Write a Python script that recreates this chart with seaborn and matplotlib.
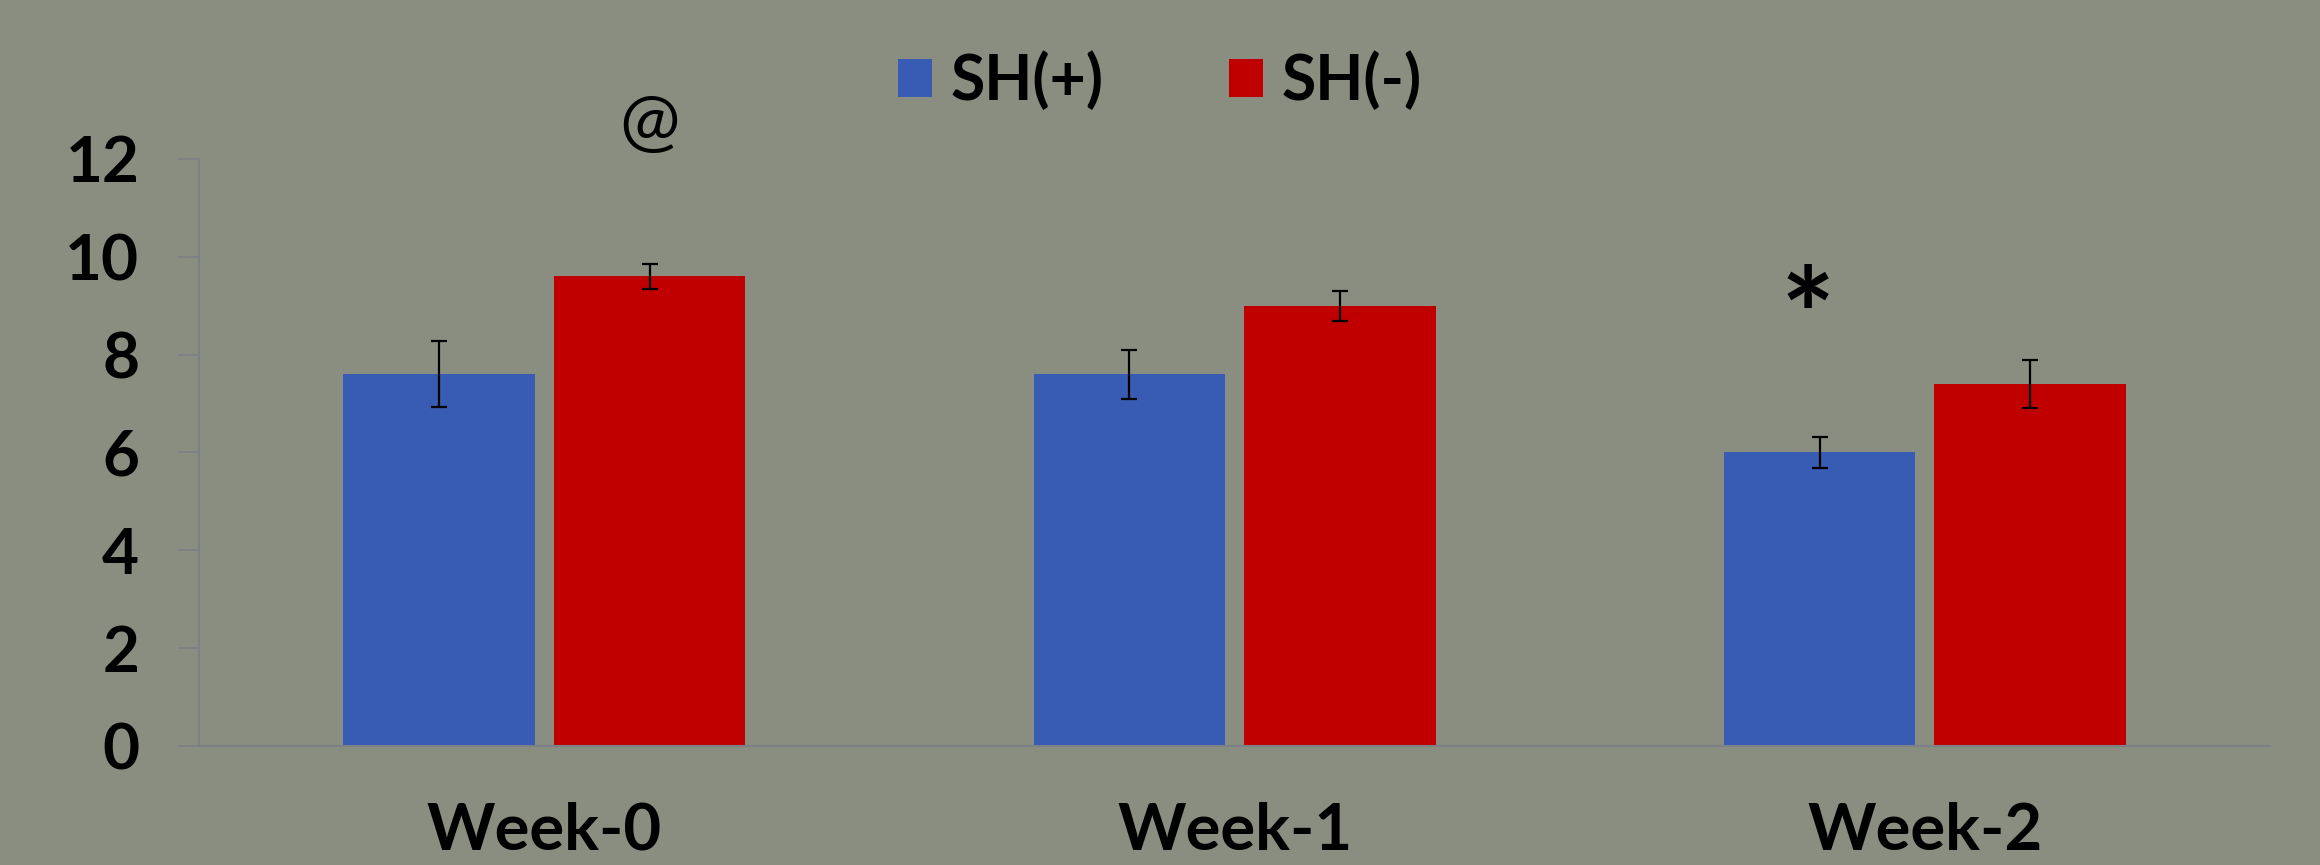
import numpy as np
import pandas as pd
import matplotlib
matplotlib.use("Agg")
import matplotlib.pyplot as plt
import seaborn as sns

# values
weeks = ["Week-0", "Week-1", "Week-2"]
groups = ["SH(+)", "SH(-)"]
sh_pos = [7.6, 7.6, 6.0]
sh_neg = [9.6, 9.0, 7.4]
sh_pos_err = [0.68, 0.5, 0.31]
sh_neg_err = [0.25, 0.31, 0.5]
yticks = [0, 2, 4, 6, 8, 10, 12]

bg = "#8a8e80"
colors = ["#385bb4", "#c00000"]

df = pd.DataFrame({
    "week": weeks * 2,
    "group": [groups[0]] * 3 + [groups[1]] * 3,
    "value": sh_pos + sh_neg,
})
errs = [sh_pos_err, sh_neg_err]

sns.set_theme(style="white")
plt.rcParams["font.family"] = ["Lato", "DejaVu Sans"]

fig = plt.figure(figsize=(23.2, 8.65), dpi=100)
fig.patch.set_facecolor(bg)
ax = fig.add_axes([0.0858, 0.1376, 0.8927, 0.6786])
ax.set_facecolor(bg)

sns.barplot(data=df, x="week", y="value", hue="group", palette=colors,
            errorbar=None, width=0.61, gap=0.09, saturation=1,
            linewidth=0, ax=ax)

# error bars on top of seaborn's bars
for cont, err in zip(ax.containers, errs):
    xs = [b.get_x() + b.get_width() / 2 for b in cont]
    hs = [b.get_height() for b in cont]
    ax.errorbar(xs, hs, yerr=err, fmt="none", ecolor="black",
                elinewidth=1.6, capsize=6, capthick=1.6, zorder=5)

ax.set_xlim(-0.5, 2.5)
ax.set_ylim(0, 12)
ax.set_yticks(yticks)
ax.set_xlabel("")
ax.set_ylabel("")

for s in ["top", "right"]:
    ax.spines[s].set_visible(False)
for s in ["left", "bottom"]:
    ax.spines[s].set_color("#7c8087")
    ax.spines[s].set_linewidth(1.5)

ax.set_xticks([0.5, 1.5, 2.5], minor=True)
ax.tick_params(axis="x", which="major", length=0, pad=40)
ax.tick_params(axis="x", which="minor", length=15, width=1.2, color="#7c8087", direction="out")
ax.tick_params(axis="y", length=15, width=1.2, color="#7c8087", direction="out", left=True, pad=28)
for lab in ax.get_xticklabels():
    lab.set_fontsize(47)
    lab.set_fontweight("bold")
    lab.set_color("black")
for lab in ax.get_yticklabels():
    lab.set_fontsize(46)
    lab.set_fontweight("bold")
    lab.set_color("black")

# significance marks
ax.text(0.152, 12.72, "@", ha="center", va="center", fontsize=52, color="black", clip_on=False)
ax.text(1.83, 8.6, "*", ha="center", va="center", fontsize=92, fontweight="bold", color="black")

handles, labels = ax.get_legend_handles_labels()
ax.get_legend().remove()
fig.legend(handles, labels, loc="center", bbox_to_anchor=(0.5, 0.906), ncol=2,
           frameon=False, prop={"size": 45, "weight": "bold"}, labelcolor="black",
           handlelength=0.55, handleheight=0.55, handletextpad=0.3, columnspacing=2.0)

fig.savefig("out.png", dpi=100, facecolor=bg)
